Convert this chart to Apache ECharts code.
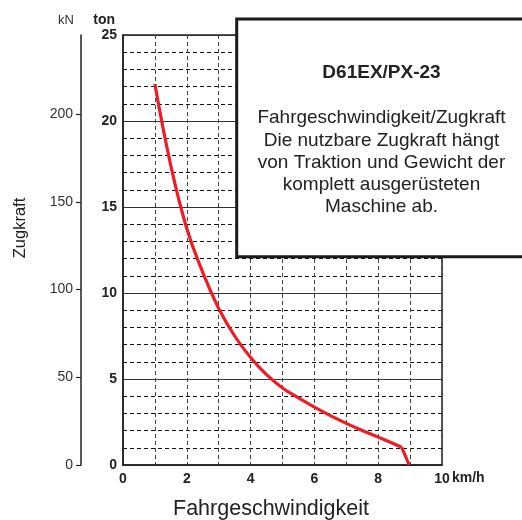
<!DOCTYPE html>
<html>
<head>
<meta charset="utf-8">
<script src="https://cdn.jsdelivr.net/npm/echarts@6/dist/echarts.min.js"></script>
<style>
html,body{margin:0;padding:0;background:#fff;}
#c{width:522px;height:520px;}
</style>
</head>
<body>
<div id="c"></div>
<script>
// Data
const speedKmh = [1.0, 1.5, 2.0, 2.5, 3.0, 3.5, 4.0, 4.5, 5.0, 5.5, 6.0, 6.5, 7.0, 7.5, 8.0, 8.74, 8.97];
const forceTon = [22.15, 17.4, 13.75, 11.2, 9.1, 7.5, 6.25, 5.25, 4.48, 3.9, 3.36, 2.87, 2.42, 2.01, 1.62, 1.03, 0];
const kNTicks = [0, 50, 100, 150, 200];
const tonMax = 25;
const kNPerTon = 9.80665;
const xTitle = 'Fahrgeschwindigkeit';
const yTitle = 'Zugkraft';
const boxTitle = 'D61EX/PX-23';
const boxLines = [
  'Fahrgeschwindigkeit/Zugkraft',
  'Die nutzbare Zugkraft hängt',
  'von Traktion und Gewicht der',
  'komplett ausgerüsteten',
  'Maschine ab.'
];

const FF = '"Liberation Sans", Arial, Helvetica, sans-serif';
const chart = echarts.init(document.getElementById('c'));
const pts = speedKmh.map((v, i) => [v, forceTon[i]]);
const curvePts = pts.slice(0, pts.length - 1);
const tailPts = pts.slice(pts.length - 2);
const lineStyle = { color: '#ee1c25', width: 3.2 };

chart.setOption({
  animation: false,
  backgroundColor: '#fff',
  grid: {
    left: 123, right: 80, top: 35, bottom: 55,
    show: true, borderColor: '#222', borderWidth: 1.5, backgroundColor: 'transparent'
  },
  xAxis: {
    type: 'value', min: 0, max: 10, interval: 2,
    axisLine: { show: true, lineStyle: { color: '#222', width: 1.5 } },
    axisTick: { show: false },
    axisLabel: { fontFamily: FF, fontWeight: 'bold', fontSize: 14, color: '#222', margin: 7 },
    splitLine: { show: true, lineStyle: { type: [4, 3], color: '#444', width: 1 } },
    minorTick: { show: false, splitNumber: 2 },
    minorSplitLine: { show: true, lineStyle: { type: [4, 3], color: '#444', width: 1 } }
  },
  yAxis: [
    {
      type: 'value', min: 0, max: tonMax, interval: 5, position: 'left',
      name: 'ton', nameLocation: 'end', nameGap: 8,
      nameTextStyle: { fontFamily: FF, fontWeight: 'bold', fontSize: 14, color: '#222', align: 'right', padding: [0, 8, 0, 0] },
      axisLine: { show: true, lineStyle: { color: '#222', width: 1.5 } },
      axisTick: { show: false },
      axisLabel: { fontFamily: FF, fontWeight: 'bold', fontSize: 14, color: '#222', margin: 6 },
      splitLine: { show: true, lineStyle: { color: '#333', width: 1.2 } },
      minorTick: { show: false, splitNumber: 5 },
      minorSplitLine: { show: true, lineStyle: { type: [4, 3], color: '#111', width: 1 } }
    },
    {
      type: 'value', min: 0, max: tonMax * kNPerTon, position: 'left', offset: 42,
      name: 'kN', nameLocation: 'end', nameGap: 8,
      nameTextStyle: { fontFamily: FF, fontSize: 13, color: '#333', align: 'right', padding: [0, 7, 0, 0] },
      axisLine: { show: true, lineStyle: { color: '#222', width: 1.5 } },
      axisTick: { show: true, length: 5, customValues: kNTicks, lineStyle: { color: '#222', width: 1.2 } },
      axisLabel: { fontFamily: FF, fontSize: 14, color: '#333', margin: 8, customValues: kNTicks },
      splitLine: { show: false }
    }
  ],
  series: [
    {
      type: 'line', yAxisIndex: 0, data: curvePts, symbol: 'none',
      smooth: 0.45, lineStyle: lineStyle, z: 5
    },
    {
      type: 'line', yAxisIndex: 0, data: tailPts, symbol: 'none',
      smooth: false, lineStyle: lineStyle, z: 5
    }
  ],
  graphic: [
    {
      type: 'rect', z: 100,
      shape: { x: 236.7, y: 19, width: 320, height: 237.7 },
      style: { fill: '#fff', stroke: '#1a1a1a', lineWidth: 3 }
    },
    {
      type: 'text', z: 101, x: 381.5, y: 72.5,
      style: { text: boxTitle, font: 'bold 19px ' + FF, fill: '#222', textAlign: 'center', textVerticalAlign: 'middle' }
    },
    {
      type: 'text', z: 101, x: 381.5, y: 162.5,
      style: { text: boxLines.join('\n'), font: '19px ' + FF, lineHeight: 22.2, fill: '#222', textAlign: 'center', textVerticalAlign: 'middle' }
    },
    {
      type: 'text', z: 101, x: 452, y: 478,
      style: { text: 'km/h', font: 'bold 14px ' + FF, fill: '#222', textAlign: 'left', textVerticalAlign: 'middle' }
    },
    {
      type: 'text', z: 101, x: 271, y: 509,
      style: { text: xTitle, font: '21.5px ' + FF, fill: '#222', textAlign: 'center', textVerticalAlign: 'middle' }
    },
    {
      type: 'text', z: 101, x: 20, y: 228, rotation: Math.PI / 2,
      style: { text: yTitle, font: '16.5px ' + FF, fill: '#222', textAlign: 'center', textVerticalAlign: 'middle' }
    }
  ]
});
</script>
</body>
</html>
